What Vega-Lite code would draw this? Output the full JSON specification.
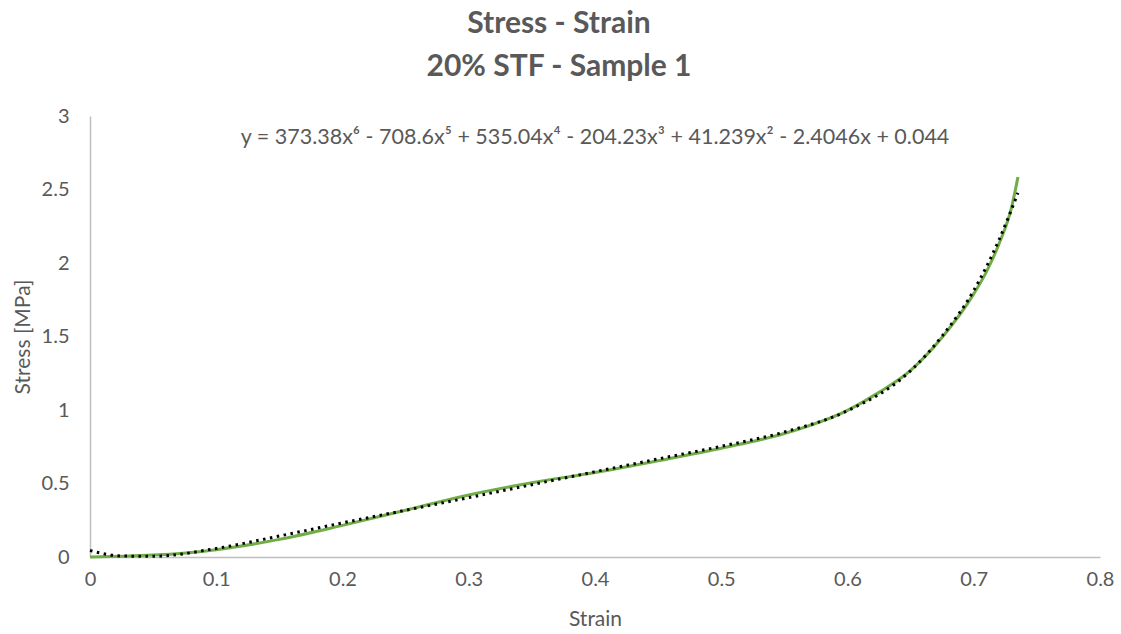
{
  "$schema": "https://vega.github.io/schema/vega-lite/v6.json",
  "width": 1010,
  "height": 441,
  "autosize": "none",
  "padding": {"left": 90, "top": 116, "right": 21, "bottom": 77},
  "background": "white",
  "config": {"view": {"stroke": null}, "font": "Lato"},
  "title": {
    "text": ["Stress - Strain", "20% STF - Sample 1"],
    "fontSize": 30,
    "fontWeight": "bold",
    "color": "#595959",
    "font": "Lato",
    "anchor": "middle",
    "dx": -36,
    "offset": 24,
    "lineHeight": 43
  },
  "datasets": {
    "measured": [
      {"strain": 0.0, "stress": 0.0},
      {"strain": 0.025, "stress": 0.005},
      {"strain": 0.05, "stress": 0.013},
      {"strain": 0.1, "stress": 0.05},
      {"strain": 0.15, "stress": 0.12},
      {"strain": 0.2, "stress": 0.215},
      {"strain": 0.25, "stress": 0.318},
      {"strain": 0.3, "stress": 0.422},
      {"strain": 0.35, "stress": 0.505},
      {"strain": 0.4, "stress": 0.575},
      {"strain": 0.45, "stress": 0.655},
      {"strain": 0.5, "stress": 0.74},
      {"strain": 0.55, "stress": 0.84},
      {"strain": 0.6, "stress": 0.998},
      {"strain": 0.625, "stress": 1.12},
      {"strain": 0.65, "stress": 1.27},
      {"strain": 0.675, "stress": 1.495},
      {"strain": 0.7, "stress": 1.79},
      {"strain": 0.71, "stress": 1.94},
      {"strain": 0.72, "stress": 2.13},
      {"strain": 0.73, "stress": 2.38},
      {"strain": 0.735, "stress": 2.585}
    ],
    "trend": [
      {"strain": 0.0, "stress": 0.044},
      {"strain": 0.025, "stress": 0.007},
      {"strain": 0.05, "stress": 0.005},
      {"strain": 0.1, "stress": 0.058},
      {"strain": 0.15, "stress": 0.143},
      {"strain": 0.2, "stress": 0.232},
      {"strain": 0.25, "stress": 0.318},
      {"strain": 0.3, "stress": 0.404},
      {"strain": 0.35, "stress": 0.492},
      {"strain": 0.4, "stress": 0.58},
      {"strain": 0.45, "stress": 0.667},
      {"strain": 0.5, "stress": 0.753},
      {"strain": 0.55, "stress": 0.85},
      {"strain": 0.6, "stress": 0.995},
      {"strain": 0.65, "stress": 1.267},
      {"strain": 0.675, "stress": 1.504},
      {"strain": 0.7, "stress": 1.813},
      {"strain": 0.72, "stress": 2.157},
      {"strain": 0.735, "stress": 2.477}
    ],
    "equation": [
      {"strain": 0.4, "stress": 2.85, "label": "y = 373.38x⁶ - 708.6x⁵ + 535.04x⁴ - 204.23x³ + 41.239x² - 2.4046x + 0.044"}
    ]
  },
  "layer": [
    {
      "data": {"name": "measured"},
      "mark": {"type": "line", "color": "#70AD47", "strokeWidth": 3, "interpolate": "monotone"},
      "encoding": {
        "x": {
          "field": "strain", "type": "quantitative",
          "scale": {"domain": [0, 0.8], "nice": false},
          "axis": {
            "title": "Strain", "values": [0, 0.1, 0.2, 0.3, 0.4, 0.5, 0.6, 0.7, 0.8], "format": "~g",
            "grid": false, "ticks": false, "domainColor": "#BFBFBF", "domainWidth": 1.5,
            "labelFont": "Lato", "labelFontSize": 20, "labelColor": "#595959", "labelPadding": 12,
            "titleFont": "Lato", "titleFontSize": 21, "titleFontWeight": "normal", "titleColor": "#595959", "titlePadding": 19,
            "labelFlush": false
          }
        },
        "y": {
          "field": "stress", "type": "quantitative",
          "scale": {"domain": [0, 3], "nice": false},
          "axis": {
            "title": "Stress [MPa]", "values": [0, 0.5, 1, 1.5, 2, 2.5, 3], "format": "~g",
            "grid": false, "ticks": false, "domainColor": "#BFBFBF", "domainWidth": 1.5,
            "labelFont": "Lato", "labelFontSize": 20, "labelColor": "#595959", "labelPadding": 21,
            "titleFont": "Lato", "titleFontSize": 21, "titleFontWeight": "normal", "titleColor": "#595959", "titlePadding": 8,
            "labelFlush": false
          }
        }
      }
    },
    {
      "data": {"name": "trend"},
      "mark": {"type": "line", "color": "#000000", "strokeWidth": 3, "strokeDash": [2.5, 4.5], "interpolate": "monotone"},
      "encoding": {
        "x": {"field": "strain", "type": "quantitative"},
        "y": {"field": "stress", "type": "quantitative"}
      }
    },
    {
      "data": {"name": "equation"},
      "mark": {"type": "text", "font": "Lato", "fontSize": 21.5, "color": "#595959", "align": "center", "baseline": "middle"},
      "encoding": {
        "x": {"field": "strain", "type": "quantitative"},
        "y": {"field": "stress", "type": "quantitative"},
        "text": {"field": "label"}
      }
    }
  ]
}
